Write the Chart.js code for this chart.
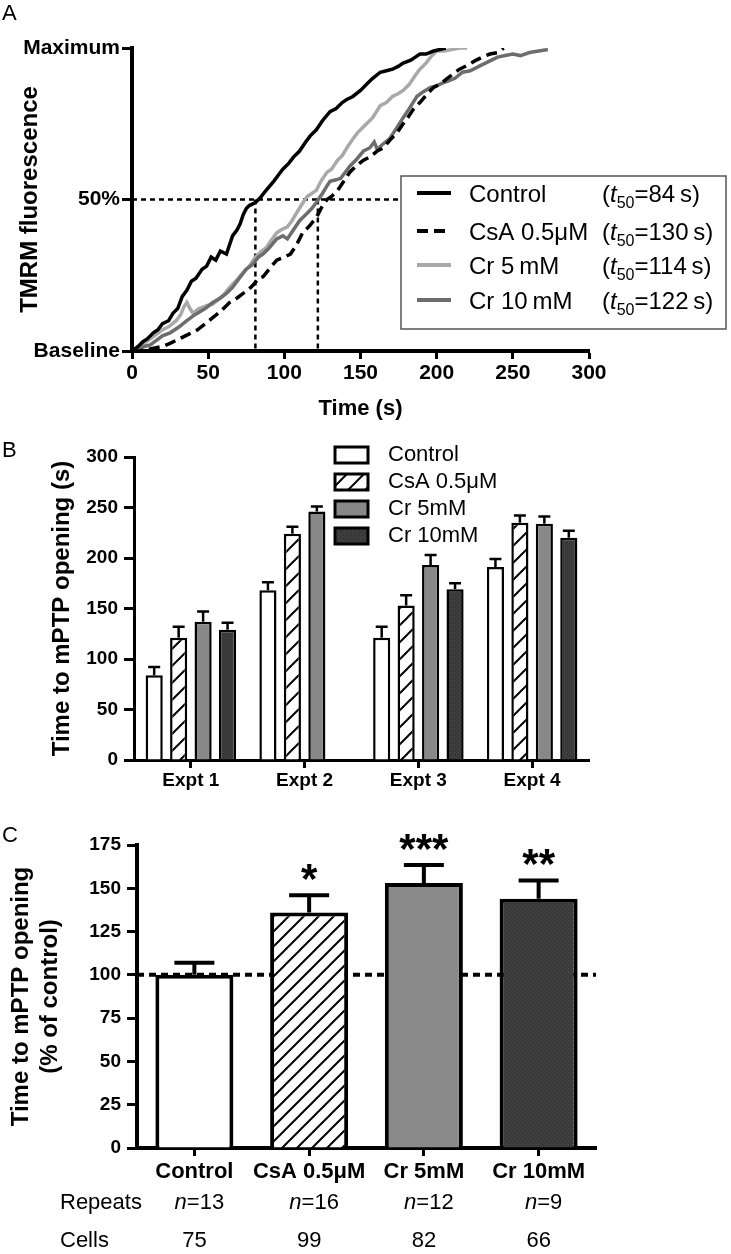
<!DOCTYPE html>
<html>
<head>
<meta charset="utf-8">
<script src="https://cdn.jsdelivr.net/npm/chart.js@4.4.1/dist/chart.umd.min.js"></script>
<style>
body { margin: 0; background: #fff; }
#wrap { position: relative; width: 731px; height: 1254px; }
canvas { position: absolute; left: 0; }
.lbl { position: absolute; left: 2px; font: 22px 'Liberation Sans', Arial, sans-serif; line-height: 22px; }
</style>
</head>
<body>
<div id="wrap">
  <canvas id="chartA" width="731" height="430" style="top:0"></canvas>
  <canvas id="chartB" width="731" height="370" style="top:430px"></canvas>
  <canvas id="chartC" width="731" height="454" style="top:800px"></canvas>
  <div class="lbl" style="top:2px">A</div>
  <div class="lbl" style="top:439px">B</div>
  <div class="lbl" style="top:824px">C</div>
</div>
<script>
const SANS = "'Liberation Sans', Arial, sans-serif";
const NARROW = "'Liberation Sans Narrow', 'Liberation Sans', Arial, sans-serif";

// ---- Panel A: TMRM traces (time in s, fluorescence as % of range)
const ctrlT = [0,4,7,10,14,17,20,24,27,30,33,36,39,42,46,49,52,55,58,62,64,66,69,71,73,75,77,81,84,88,93,96,99,103,106,110,114,117,121,125,130,134,138,141,145,150,154,158,163,167,171,175,178,183,186,189,193,198,202,206];
const ctrlF = [0,1.5,3,4,6,7,9,10,12.5,14,18,20,23,24,27,28,31,30,33,32,35,38,40,42,45,47,48,49,50.5,53,56,58,60,62,64,66,69,71,73,76,79,80,82,83,84,86,88,90,92,92.5,93,94,95,96,97,98,98,99,99.5,100];
const csaT = [0,5,10,15,20,25,31,37,43,48,53,58,64,69,73,77,80,83,86,90,95,100,104,108,112,116,121,124,128,131,135,139,143,147,152,156,161,165,170,174,178,181,185,189,194,198,202,207,211,215,221,226,230,235,240,244];
const csaF = [0,0,0.5,1,1.5,2.5,4,5.5,7,9,11,13,16,17.5,19,20.5,22,24,24.5,27,30,31,32,35,39,41,44,47,50,51,53,56,59,61,63,64,66,67,70,72,75,77,80,82,85,87,88,90,91.5,93,94.5,96,97,98,98.5,100];
const cr5T = [0,4,8,12,16,20,24,29,32,34,36,38,40,44,49,53,58,61,64,68,73,77,81,85,88,92,95,98,102,105,108,111,115,118,121,124,128,131,135,138,141,145,148,151,154,158,163,167,171,175,178,182,186,189,193,196,200,205,210,215,220];
const cr5F = [0,1,2.5,4,5.5,7,8,10,12,14.5,16,14,12.5,14,15,15.5,17.5,19,21,23,26,28,31,33,34,37,39,40,41,43,45.5,48,51,52,53,56,59,60,63,64.5,67,70,72,73.5,75,77,81,82,84,85,86,88,91,93,95,97,99,99,99.5,100,100];
const cr10T = [0,4,8,12,16,20,25,31,36,40,43,48,53,58,62,66,69,72,75,79,83,86,90,95,99,102,106,110,114,118,121,125,128,130,134,137,140,143,147,152,156,159,161,164,169,173,178,182,187,191,196,200,204,207,212,217,222,228,234,240,245,250,255,261,267,273];
const cr10F = [0,0.5,1.5,2,3.5,5,6,8,10,11.5,12.5,14,16,17.5,19,21,23,25,27,28.5,31,32,34,37,38,37,40,43,45,47,49,52,54.5,56,56.5,57,59,61,63,66,67,69,66.5,68,70,73,77,80,84,85.5,87,87.5,88.5,89,90,92,92.5,94,95.5,97,97.5,98,97.5,98.5,99,99.5];
const seriesA = ['Control', 'CsA 0.5\u03bcM', 'Cr 5\u2009mM', 'Cr 10\u2009mM'];
const t50A = [84, 130, 114, 122];
const yTicksA = [0, 50, 100];
const yTickTextA = ['Baseline', '50%', 'Maximum'];
const halfLevelA = 50;
const t50MarksA = [81, 122];

// ---- Panel B: per experiment
const exptLabels = ['Expt 1', 'Expt 2', 'Expt 3', 'Expt 4'];
const seriesB = ['Control', 'CsA 0.5\u03bcM', 'Cr 5mM', 'Cr 10mM'];
const bControl = [84, 168, 121, 191];
const bCsA = [121, 224, 153, 235];
const bCr5 = [137, 246, 193, 234];
const bCr10 = [129, null, 169, 220];
const bControlErr = [8, 8, 11, 8];
const bCsAErr = [11, 7, 10, 7];
const bCr5Err = [10, 5, 10, 7];
const bCr10Err = [7, null, 6, 7];

// ---- Panel C: pooled, % of control
const groupsC = ['Control', 'CsA 0.5\u03bcM', 'Cr 5mM', 'Cr 10mM'];
const pctC = [100, 136, 153, 144];
const pctErrC = [7, 10, 10.5, 10.5];
const sigC = ['', '*', '***', '**'];
const repeatsC = [13, 16, 12, 9];
const cellsC = [75, 99, 82, 66];
const refLevelC = 100;

Chart.defaults.font.family = SANS;
Chart.defaults.color = '#000';

function pts(t, f) {
    return t.map((v, i) => ({ x: v, y: f[i] }));
}

function hatch(size) {
    const c = document.createElement('canvas');
    c.width = size; c.height = size;
    const g = c.getContext('2d');
    g.fillStyle = '#fff';
    g.fillRect(0, 0, size, size);
    g.strokeStyle = '#000';
    g.lineWidth = 2;
    g.beginPath();
    g.moveTo(-2, size + 2); g.lineTo(size + 2, -2);
    g.moveTo(-2, 2); g.lineTo(2, -2);
    g.moveTo(size - 2, size + 2); g.lineTo(size + 2, size - 2);
    g.stroke();
    return g.createPattern(c, 'repeat');
}

function dotted(base, dot) {
    const c = document.createElement('canvas');
    c.width = 4; c.height = 4;
    const g = c.getContext('2d');
    g.fillStyle = base;
    g.fillRect(0, 0, 4, 4);
    g.fillStyle = dot;
    g.fillRect(0, 0, 1, 1);
    g.fillRect(2, 2, 1, 1);
    return g.createPattern(c, 'repeat');
}

const errorBars = {
    id: 'errorBars',
    afterDatasetsDraw(chart, args, opts) {
        const { ctx } = chart;
        const y = chart.scales.y;
        chart.data.datasets.forEach((ds, i) => {
            if (!ds.errors) return;
            chart.getDatasetMeta(i).data.forEach((bar, j) => {
                const v = ds.data[j], e = ds.errors[j];
                if (v == null || e == null) return;
                const top = y.getPixelForValue(v + e);
                ctx.save();
                ctx.strokeStyle = '#000';
                ctx.lineWidth = opts.width;
                ctx.beginPath();
                ctx.moveTo(bar.x, bar.y);
                ctx.lineTo(bar.x, top);
                ctx.moveTo(bar.x - opts.cap / 2, top);
                ctx.lineTo(bar.x + opts.cap / 2, top);
                ctx.stroke();
                ctx.restore();
            });
        });
    }
};

// ---------------- Panel A
const refLinesA = {
    id: 'refLinesA',
    beforeDatasetsDraw(chart) {
        const { ctx, chartArea, scales: { x, y } } = chart;
        const yh = y.getPixelForValue(halfLevelA);
        ctx.save();
        ctx.strokeStyle = '#000';
        ctx.lineWidth = 2.5;
        ctx.setLineDash([5, 4]);
        ctx.beginPath();
        ctx.moveTo(x.getPixelForValue(0), yh);
        ctx.lineTo(chartArea.right + 20, yh);
        t50MarksA.forEach(t => {
            ctx.moveTo(x.getPixelForValue(t), yh);
            ctx.lineTo(x.getPixelForValue(t), y.getPixelForValue(0));
        });
        ctx.stroke();
        ctx.restore();
    }
};

const legendA = {
    id: 'legendA',
    afterDraw(chart) {
        const { ctx } = chart;
        ctx.save();
        ctx.fillStyle = '#fff';
        ctx.fillRect(401, 176, 325, 153);
        ctx.strokeStyle = '#555';
        ctx.lineWidth = 1.5;
        ctx.strokeRect(401, 176, 325, 153);
        const rows = [193, 231, 265, 300];
        chart.data.datasets.forEach((ds, i) => {
            const ry = rows[i];
            ctx.strokeStyle = ds.borderColor;
            ctx.lineWidth = 4;
            ctx.setLineDash(ds.borderDash ? [11, 6] : []);
            ctx.beginPath();
            ctx.moveTo(417, ry);
            ctx.lineTo(451, ry);
            ctx.stroke();
            ctx.setLineDash([]);
            ctx.fillStyle = '#000';
            ctx.textBaseline = 'alphabetic';
            ctx.font = '24px ' + SANS;
            const base = ry + 9;
            ctx.fillText(ds.label, 469, base);
            let xx = 602;
            ctx.fillText('(', xx, base);
            xx += ctx.measureText('(').width;
            ctx.font = 'italic 24px ' + SANS;
            ctx.fillText('t', xx, base);
            xx += ctx.measureText('t').width;
            ctx.font = '16px ' + SANS;
            ctx.fillText('50', xx, base + 6);
            xx += ctx.measureText('50').width;
            ctx.font = '24px ' + SANS;
            ctx.fillText('=' + t50A[i] + '\u2009s)', xx, base);
        });
        ctx.restore();
    }
};

new Chart(document.getElementById('chartA'), {
    type: 'line',
    data: {
        datasets: [
            { label: seriesA[0], data: pts(ctrlT, ctrlF), borderColor: '#000', borderWidth: 3.5, pointRadius: 0, order: 0 },
            { label: seriesA[1], data: pts(csaT, csaF), borderColor: '#000', borderWidth: 3.5, borderDash: [11, 6], pointRadius: 0, order: 1 },
            { label: seriesA[2], data: pts(cr5T, cr5F), borderColor: '#a9a9a9', borderWidth: 3.5, pointRadius: 0, order: 3 },
            { label: seriesA[3], data: pts(cr10T, cr10F), borderColor: '#6d6d6d', borderWidth: 3.5, pointRadius: 0, order: 2 }
        ]
    },
    options: {
        responsive: false,
        animation: false,
        layout: { padding: { top: 48, right: 142, left: 0, bottom: 0 } },
        plugins: { legend: { display: false }, tooltip: { enabled: false } },
        scales: {
            x: {
                type: 'linear', min: 0, max: 300,
                ticks: { stepSize: 50, maxRotation: 0, padding: 2, color: '#000', font: { size: 21, weight: 'bold' } },
                grid: { drawOnChartArea: false, tickLength: 8, tickWidth: 3, tickColor: '#000' },
                border: { color: '#000', width: 4 },
                title: { display: true, text: 'Time (s)', color: '#000', font: { size: 22, weight: 'bold' }, padding: { top: 0, bottom: 8 } },
                afterFit(s) { s.height = 79; }
            },
            y: {
                type: 'linear', min: 0, max: 100,
                afterBuildTicks(s) { s.ticks = yTicksA.map(v => ({ value: v })); },
                ticks: { padding: 2, color: '#000', font: { size: 21, weight: 'bold' }, callback: (v, i) => yTickTextA[i] },
                grid: { drawOnChartArea: false, tickLength: 10, tickWidth: 3, tickColor: '#000' },
                border: { color: '#000', width: 4 },
                title: { display: true, text: 'TMRM fluorescence', color: '#000', font: { size: 24, weight: 'bold' }, padding: { top: 16, bottom: 0 } },
                afterFit(s) { s.width = 132; }
            }
        }
    },
    plugins: [refLinesA, legendA]
});

// ---------------- Panel B
const legendB = {
    id: 'legendB',
    afterDraw(chart) {
        const { ctx } = chart;
        ctx.save();
        const rows = [25, 52, 79, 106];
        chart.data.datasets.forEach((ds, i) => {
            const ry = rows[i];
            ctx.fillStyle = ds.backgroundColor;
            ctx.fillRect(335, ry - 8, 33, 16);
            ctx.strokeStyle = '#000';
            ctx.lineWidth = 3;
            ctx.strokeRect(335, ry - 8, 33, 16);
            ctx.fillStyle = '#000';
            ctx.font = '22px ' + SANS;
            ctx.textBaseline = 'middle';
            ctx.fillText(ds.label, 388, ry);
        });
        ctx.restore();
    }
};

const barB = { borderColor: '#000', borderWidth: 2.5, categoryPercentage: 0.86, barPercentage: 0.7 };
new Chart(document.getElementById('chartB'), {
    type: 'bar',
    data: {
        labels: exptLabels,
        datasets: [
            Object.assign({ label: seriesB[0], data: bControl, errors: bControlErr, backgroundColor: '#fff' }, barB),
            Object.assign({ label: seriesB[1], data: bCsA, errors: bCsAErr, backgroundColor: hatch(17) }, barB),
            Object.assign({ label: seriesB[2], data: bCr5, errors: bCr5Err, backgroundColor: '#888' }, barB),
            Object.assign({ label: seriesB[3], data: bCr10, errors: bCr10Err, backgroundColor: dotted('#383838', '#4e4e4e') }, barB)
        ]
    },
    options: {
        responsive: false,
        animation: false,
        layout: { padding: { top: 27, right: 142, left: 0, bottom: 0 } },
        plugins: { legend: { display: false }, tooltip: { enabled: false }, errorBars: { cap: 12, width: 2.5 } },
        scales: {
            x: {
                ticks: { padding: 1, autoSkip: false, maxRotation: 0, color: '#000', font: { size: 19, weight: 'bold' } },
                grid: { offset: false, drawOnChartArea: false, tickLength: 8, tickWidth: 3, tickColor: '#000' },
                border: { color: '#000', width: 3 },
                afterFit(s) { s.height = 40; }
            },
            y: {
                min: 0, max: 300,
                ticks: { stepSize: 50, padding: 6, color: '#000', font: { family: NARROW, size: 19, weight: 'bold' } },
                grid: { drawOnChartArea: false, tickLength: 10, tickWidth: 3, tickColor: '#000' },
                border: { color: '#000', width: 3 },
                title: { display: true, text: 'Time to mPTP opening (s)', color: '#000', font: { size: 24, weight: 'bold' }, padding: { top: 48, bottom: 0 } },
                afterFit(s) { s.width = 134; }
            }
        }
    },
    plugins: [errorBars, legendB]
});

// ---------------- Panel C
const extrasC = {
    id: 'extrasC',
    beforeDatasetsDraw(chart) {
        const { ctx, chartArea, scales: { y } } = chart;
        const yy = y.getPixelForValue(refLevelC);
        ctx.save();
        ctx.strokeStyle = '#000';
        ctx.lineWidth = 4;
        ctx.setLineDash([7, 5]);
        ctx.beginPath();
        ctx.moveTo(chartArea.left, yy);
        ctx.lineTo(chartArea.right, yy);
        ctx.stroke();
        ctx.restore();
    },
    afterDraw(chart) {
        const { ctx, scales: { x, y } } = chart;
        ctx.save();
        ctx.fillStyle = '#000';
        ctx.textBaseline = 'middle';
        ctx.font = '22px ' + SANS;
        ctx.textAlign = 'left';
        ctx.fillText('Repeats', 60, 403);
        ctx.fillText('Cells', 60, 441);
        groupsC.forEach((g, i) => {
            const cx = x.getPixelForValue(i);
            // n = repeats
            ctx.font = 'italic 22px ' + SANS;
            const wn = ctx.measureText('n').width;
            ctx.font = '22px ' + SANS;
            const rest = '=' + repeatsC[i];
            const wr = ctx.measureText(rest).width;
            const sx = cx + 5 - (wn + wr) / 2;
            ctx.textAlign = 'left';
            ctx.font = 'italic 22px ' + SANS;
            ctx.fillText('n', sx, 403);
            ctx.font = '22px ' + SANS;
            ctx.fillText(rest, sx + wn, 403);
            ctx.textAlign = 'center';
            ctx.fillText(String(cellsC[i]), cx, 441);
            // significance stars
            if (sigC[i]) {
                const top = y.getPixelForValue(pctC[i] + pctErrC[i]);
                ctx.font = 'bold 42px ' + SANS;
                ctx.textBaseline = 'alphabetic';
                ctx.fillText(sigC[i], cx, top - 2);
                ctx.textBaseline = 'middle';
            }
        });
        ctx.restore();
    }
};

new Chart(document.getElementById('chartC'), {
    type: 'bar',
    data: {
        labels: groupsC,
        datasets: [{
            data: pctC,
            errors: pctErrC,
            backgroundColor: ['#fff', hatch(15), '#8a8a8a', dotted('#3a3a3a', '#505050')],
            borderColor: '#000',
            borderWidth: 4,
            categoryPercentage: 0.68,
            barPercentage: 1
        }]
    },
    options: {
        responsive: false,
        animation: false,
        layout: { padding: { top: 45, right: 135, left: 0, bottom: 0 } },
        plugins: { legend: { display: false }, tooltip: { enabled: false }, errorBars: { cap: 40, width: 4 } },
        scales: {
            x: {
                ticks: { padding: 3, autoSkip: false, maxRotation: 0, minRotation: 0, color: '#000', font: { size: 22, weight: 'bold' } },
                grid: { offset: false, drawOnChartArea: false, tickLength: 8, tickWidth: 3, tickColor: '#000' },
                border: { color: '#000', width: 4 },
                afterFit(s) { s.height = 106; }
            },
            y: {
                min: 0, max: 175,
                ticks: { stepSize: 25, padding: 6, color: '#000', font: { family: NARROW, size: 19, weight: 'bold' } },
                grid: { drawOnChartArea: false, tickLength: 10, tickWidth: 3, tickColor: '#000' },
                border: { color: '#000', width: 4 },
                title: { display: true, text: ['Time to mPTP opening', '(% of control)'], color: '#000', font: { size: 24, weight: 'bold' }, padding: { top: 7, bottom: 0 } },
                afterFit(s) { s.width = 137; }
            }
        }
    },
    plugins: [errorBars, extrasC]
});
</script>
</body>
</html>
